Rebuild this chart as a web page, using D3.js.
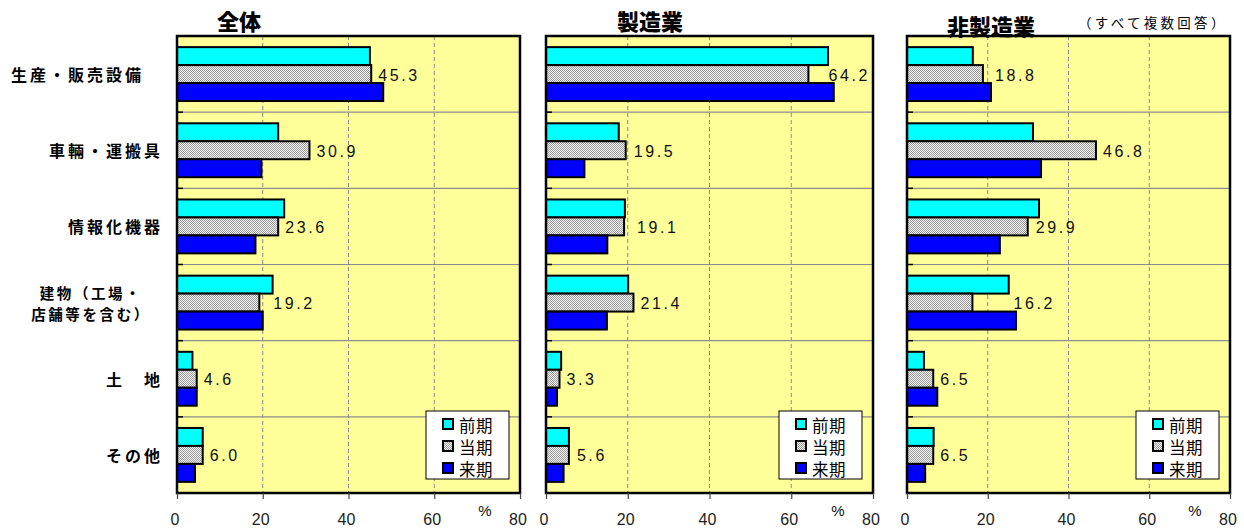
<!DOCTYPE html>
<html>
<head>
<meta charset="utf-8">
<script src="https://cdn.jsdelivr.net/npm/d3@7"></script>
<style>
  body { margin: 0; background: #fff; }
  svg { display: block; }
</style>
</head>
<body>
<div id="my_dataviz"></div>
<script>

// Data.
const panels = ["全体", "製造業", "非製造業"];
const series = ["前期", "当期", "来期"];
const categories = ["生産・販売設備　", "車輛・運搬具", "情報化機器", "建物（工場・\n店舗等を含む）", "土　地", "その他"];
const xTicks = [0, 20, 40, 60, 80];

const zentai_zenki = [45.0, 23.6, 25.0, 22.3, 3.6, 6.0];
const zentai_touki = [45.3, 30.9, 23.6, 19.2, 4.6, 6.0];
const zentai_raiki = [48.1, 19.7, 18.3, 20.0, 4.6, 4.2];

const seizou_zenki = [69.0, 17.8, 19.3, 20.1, 3.7, 5.6];
const seizou_touki = [64.2, 19.5, 19.1, 21.4, 3.3, 5.6];
const seizou_raiki = [70.4, 9.4, 15.0, 14.9, 2.7, 4.3];

const hiseizou_zenki = [16.3, 31.2, 32.7, 25.2, 4.2, 6.6];
const hiseizou_touki = [18.8, 46.8, 29.9, 16.2, 6.5, 6.5];
const hiseizou_raiki = [20.8, 33.2, 23.0, 27.0, 7.5, 4.5];

const note = "（すべて複数回答）";

// Values per panel, one array per series.
const panelValues = [
  [zentai_zenki, zentai_touki, zentai_raiki],
  [seizou_zenki, seizou_touki, seizou_raiki],
  [hiseizou_zenki, hiseizou_touki, hiseizou_raiki]
];

/**
 * Layout.
 */
const W = 1244, H = 529;
const plotTop = 36, plotBottom = 493;
const plotX = [[177, 520], [546, 873], [907, 1230]];
const titlePos = [[239, 20], [650, 20], [991, 25]];
// Gap between the 当期 bar and its label (some labels were moved by hand).
const labelGap = [[7, 7, 7, 14, 7, 7], [20, 8, 13, 7, 7, 8], [12, 7, 8, 41, 7, 7]];

const fills = ["#00ffff", "url(#dots)", "#0000ff"];

const svg = d3.select("#my_dataviz")
  .append("svg")
  .attr("width", W)
  .attr("height", H);

// Dotted fill used for 当期.
const pat = svg.append("defs").append("pattern")
  .attr("id", "dots")
  .attr("width", 2)
  .attr("height", 2)
  .attr("patternUnits", "userSpaceOnUse");
pat.append("rect").attr("width", 2).attr("height", 2).attr("fill", "#f4f4f4");
pat.append("rect").attr("width", 1).attr("height", 1).attr("fill", "#9a9a9a");
pat.append("rect").attr("x", 1).attr("y", 1).attr("width", 1).attr("height", 1).attr("fill", "#9a9a9a");

// Shared category scale.
const y = d3.scaleBand()
  .domain(categories)
  .range([plotTop, plotBottom]);

const ySub = d3.scaleBand()
  .domain(series)
  .range([0, y.bandwidth()])
  .paddingOuter(0.62);

/**
 * Category labels (left of first panel).
 */
const catLabels = svg.append("g")
  .attr("font-family", "'Noto Sans CJK JP', sans-serif")
  .attr("font-weight", "bold")
  .attr("fill", "#000");

categories.forEach(c => {
  const lines = c.split("\n");
  const multi = lines.length > 1;
  const cy = y(c) + y.bandwidth() / 2;
  const t = catLabels.append("text")
    .attr("text-anchor", multi ? "middle" : "end")
    .attr("dominant-baseline", "central")
    .attr("font-size", multi ? 14.5 : 16)
    .attr("letter-spacing", multi ? 2.6 : 3);
  lines.forEach((l, i) => {
    t.append("tspan")
      .attr("x", multi ? 91 : 163)
      .attr("y", cy + (i - (lines.length - 1) / 2) * 21)
      .text(l);
  });
});

/**
 * Panels.
 */
panels.forEach((name, p) => {

  const [x0, x1] = plotX[p];
  const x = d3.scaleLinear()
    .domain([0, 80])
    .range([x0, x1]);

  const g = svg.append("g");

  // Plot background.
  g.append("rect")
    .attr("x", x0)
    .attr("y", plotTop)
    .attr("width", x1 - x0)
    .attr("height", plotBottom - plotTop)
    .attr("fill", "#ffff99");

  // Vertical dashed gridlines.
  g.selectAll("vgrid")
    .data(xTicks.slice(1, -1))
    .join("line")
    .attr("x1", d => x(d))
    .attr("x2", d => x(d))
    .attr("y1", plotTop)
    .attr("y2", plotBottom)
    .attr("stroke", "#8a8a8a")
    .attr("stroke-width", 1)
    .attr("stroke-dasharray", "4,3");

  // Horizontal gridlines between categories.
  g.selectAll("hgrid")
    .data(categories.slice(1))
    .join("line")
    .attr("x1", x0)
    .attr("x2", x1)
    .attr("y1", d => y(d))
    .attr("y2", d => y(d))
    .attr("stroke", "#8c8c8c")
    .attr("stroke-width", 1.2);

  // Category tick marks pointing into the plot.
  g.selectAll("ytick")
    .data(categories.slice(1))
    .join("line")
    .attr("x1", x0)
    .attr("x2", x0 + 6)
    .attr("y1", d => y(d))
    .attr("y2", d => y(d))
    .attr("stroke", "#000")
    .attr("stroke-width", 1.5);

  // Bars.
  const vals = panelValues[p];
  series.forEach((s, si) => {
    g.selectAll("bar" + si)
      .data(categories.map((c, ci) => ({ c: c, v: vals[si][ci] })))
      .join("rect")
      .attr("x", x(0))
      .attr("y", d => y(d.c) + ySub(s))
      .attr("width", d => x(d.v) - x(0))
      .attr("height", ySub.bandwidth())
      .attr("fill", fills[si])
      .attr("stroke", "#000")
      .attr("stroke-width", 2);
  });

  // Labels on 当期.
  g.selectAll("vlabel")
    .data(categories.map((c, ci) => ({ c: c, v: vals[1][ci], gap: labelGap[p][ci] })))
    .join("text")
    .attr("x", d => x(d.v) + d.gap)
    .attr("y", d => y(d.c) + ySub("当期") + ySub.bandwidth() / 2 + 1)
    .attr("dominant-baseline", "central")
    .attr("font-family", "'Liberation Sans', Arial, sans-serif")
    .attr("font-size", 16)
    .attr("letter-spacing", 2.6)
    .attr("fill", "#111")
    .text(d => d.v.toFixed(1));

  // Plot border.
  g.append("rect")
    .attr("x", x0)
    .attr("y", plotTop)
    .attr("width", x1 - x0)
    .attr("height", plotBottom - plotTop)
    .attr("fill", "none")
    .attr("stroke", "#000")
    .attr("stroke-width", 2.5);

  // X axis.
  const xAxis = g.append("g")
    .attr("transform", `translate(0, ${plotBottom})`)
    .call(d3.axisBottom(x).tickValues(xTicks).tickSize(6).tickPadding(15));
  xAxis.select(".domain").remove();
  xAxis.selectAll(".tick line").attr("stroke", "#444").attr("stroke-width", 1.2);
  xAxis.selectAll(".tick text")
    .attr("font-family", "'Liberation Sans', Arial, sans-serif")
    .attr("font-size", 16)
    .attr("fill", "#222")
    .attr("dx", -2.5);

  // Unit label.
  g.append("text")
    .attr("x", x1 - 35)
    .attr("y", 510)
    .attr("text-anchor", "middle")
    .attr("dominant-baseline", "central")
    .attr("font-family", "'Liberation Sans', Arial, sans-serif")
    .attr("font-size", 15)
    .attr("fill", "#111")
    .text("%");

  // Title.
  g.append("text")
    .attr("x", titlePos[p][0])
    .attr("y", titlePos[p][1])
    .attr("text-anchor", "middle")
    .attr("dominant-baseline", "central")
    .attr("font-family", "'Noto Sans CJK JP', sans-serif")
    .attr("font-weight", 900)
    .attr("font-size", 22)
    .attr("fill", "#000")
    .text(name);

  /**
   * Legend.
   */
  const lw = 83, lh = 68;
  const lx = x1 - 11 - lw, ly = plotBottom - 14 - lh;
  const legend = g.append("g").attr("transform", `translate(${lx}, ${ly})`);
  legend.append("rect")
    .attr("width", lw)
    .attr("height", lh)
    .attr("fill", "#fff")
    .attr("stroke", "#000")
    .attr("stroke-width", 1);

  legend.selectAll("lmark")
    .data(series)
    .join("rect")
    .attr("x", 17)
    .attr("y", (d, i) => 13 + i * 22 - 5)
    .attr("width", 10)
    .attr("height", 10)
    .attr("fill", (d, i) => fills[i])
    .attr("stroke", "#000")
    .attr("stroke-width", 2);

  legend.selectAll("ltext")
    .data(series)
    .join("text")
    .attr("x", 33)
    .attr("y", (d, i) => 13 + i * 22 + 1)
    .attr("dominant-baseline", "central")
    .attr("font-family", "'Noto Sans CJK JP', sans-serif")
    .attr("font-size", 16.5)
    .attr("letter-spacing", 0.5)
    .attr("fill", "#000")
    .text(d => d);
});

// Note at top right.
svg.append("text")
  .attr("x", 1078)
  .attr("y", 22)
  .attr("dominant-baseline", "central")
  .attr("font-family", "'Noto Sans CJK JP', sans-serif")
  .attr("font-size", 13.5)
  .attr("letter-spacing", 3.3)
  .attr("fill", "#000")
  .text(note);

</script>
</body>
</html>
